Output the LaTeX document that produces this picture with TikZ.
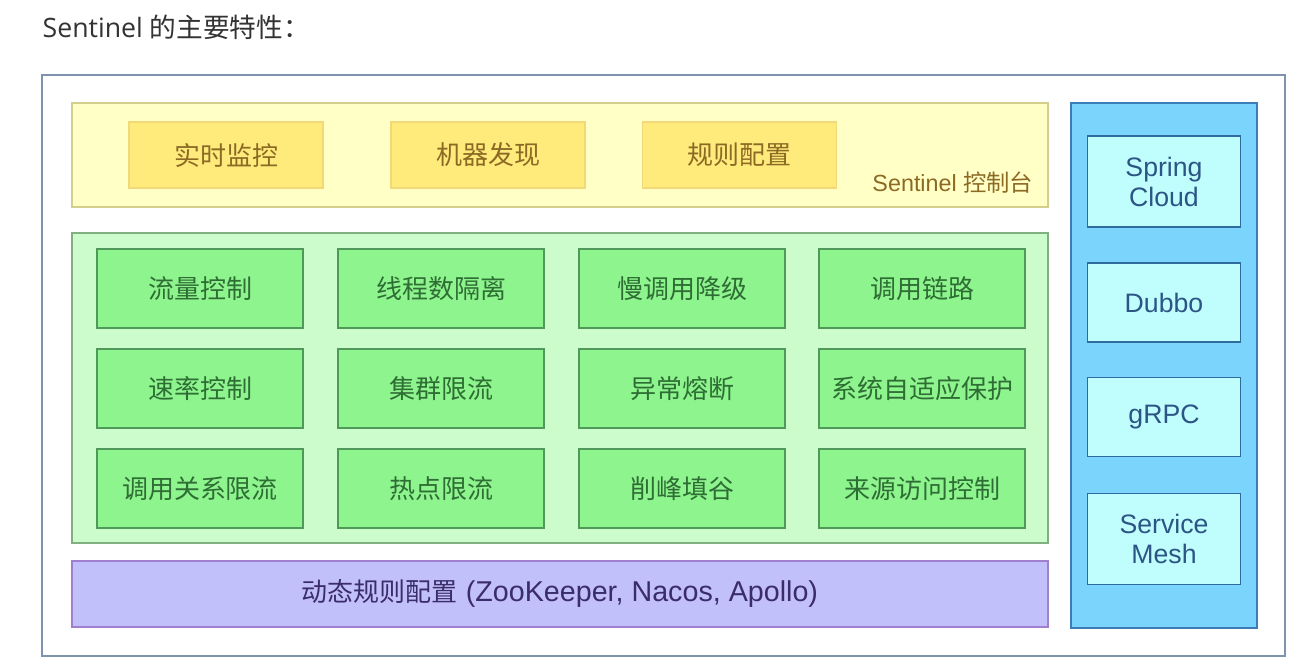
\documentclass[tikz,border=0pt]{standalone}
\usepackage{fontspec}
\setmainfont{Liberation Sans}
\newfontfamily\cjk{Noto Sans CJK SC}
\newfontfamily\titlefont{Open Sans}
\definecolor{framecol}{HTML}{7D93AE}
\definecolor{ylwpanel}{HTML}{FFFFC6}
\definecolor{ylwpaneldraw}{HTML}{D4CF8C}
\definecolor{ylwbox}{HTML}{FFEA7C}
\definecolor{ylwboxdraw}{HTML}{F2D878}
\definecolor{ylwtext}{HTML}{8C6A24}
\definecolor{grnpanel}{HTML}{CCFCCC}
\definecolor{grnpaneldraw}{HTML}{80B080}
\definecolor{grnbox}{HTML}{8EF48E}
\definecolor{grnboxdraw}{HTML}{4F9A5A}
\definecolor{grntext}{HTML}{2E6E34}
\definecolor{prpfill}{HTML}{C2C0FA}
\definecolor{prpdraw}{HTML}{A07FCE}
\definecolor{prptext}{HTML}{3A2D6A}
\definecolor{bluepanel}{HTML}{7AD4FC}
\definecolor{bluepaneldraw}{HTML}{3C7DB8}
\definecolor{bluebox}{HTML}{C0FDFD}
\definecolor{blueboxdraw}{HTML}{2E6B9E}
\definecolor{bluetext}{HTML}{2C5585}
\begin{document}
\begin{tikzpicture}[x=0.75pt,y=-0.75pt,
    box/.style={draw,line width=1.2pt,inner sep=0pt,align=center},
    ylwfeature/.style={box,fill=ylwbox,draw=ylwboxdraw,text=ylwtext,
      minimum width=145.5pt,minimum height=49.5pt,font=\cjk\fontsize{19.5}{23}\selectfont},
    grnfeature/.style={box,fill=grnbox,draw=grnboxdraw,text=grntext,
      minimum width=154.5pt,minimum height=59.25pt,font=\cjk\fontsize{19.5}{23}\selectfont},
    framework/.style={box,fill=bluebox,draw=blueboxdraw,text=bluetext,
      minimum width=114.75pt,font=\fontsize{20}{22.5}\selectfont}]
  \useasboundingbox (0,0) rectangle (1297,666);
  \fill[white] (0,0) rectangle (1297,666);
  \draw
    (38,27) node[anchor=west,text=black!80,font=\fontsize{20}{22}\selectfont] (title)
      {\titlefont Sentinel {\cjk 的主要特性：}}
    (663.5,365.5) node[box,draw=framecol,fill=white,minimum width=932.25pt,minimum height=435.75pt] (frame){}
    (560,155) node[box,fill=ylwpanel,draw=ylwpaneldraw,minimum width=732pt,minimum height=78pt] (dashboard){}
    (560,388) node[box,fill=grnpanel,draw=grnpaneldraw,minimum width=732pt,minimum height=232.5pt] (features){}
    (560,594) node[box,fill=prpfill,draw=prpdraw,text=prptext,minimum width=732pt,minimum height=49.5pt,
      font=\fontsize{21.5}{24}\selectfont] (dynrule)
      {{\cjk\fontsize{19.5}{24}\selectfont 动态规则配置} (ZooKeeper, Nacos, Apollo)}
    (1164,365.5) node[box,fill=bluepanel,draw=bluepaneldraw,minimum width=139.5pt,minimum height=393.75pt] (adapters){};
  \draw
    (226,155) node[ylwfeature] (monitor){实时监控}
    (488,155) node[ylwfeature] (discovery){机器发现}
    (739.5,155) node[ylwfeature] (ruleconf){规则配置}
    (1038,183) node[anchor=east,text=ylwtext,font=\fontsize{17.5}{20}\selectfont] (console)
      {Sentinel {\cjk 控制台}};
  \draw
    (200,288.5) node[grnfeature] (f1){流量控制}
    (441,288.5) node[grnfeature] (f2){线程数隔离}
    (682,288.5) node[grnfeature] (f3){慢调用降级}
    (922,288.5) node[grnfeature] (f4){调用链路}
    (200,388.5) node[grnfeature] (f5){速率控制}
    (441,388.5) node[grnfeature] (f6){集群限流}
    (682,388.5) node[grnfeature] (f7){异常熔断}
    (922,388.5) node[grnfeature] (f8){系统自适应保护}
    (200,488.5) node[grnfeature] (f9){调用关系限流}
    (441,488.5) node[grnfeature] (f10){热点限流}
    (682,488.5) node[grnfeature] (f11){削峰填谷}
    (922,488.5) node[grnfeature] (f12){来源访问控制};
  \draw
    (1164,181.5) node[framework,minimum height=68.25pt] (springcloud){Spring\\Cloud}
    (1164,302.5) node[framework,minimum height=59.25pt] (dubbo){Dubbo}
    (1164,417) node[framework,minimum height=59.25pt] (grpc){gRPC}
    (1164,539) node[framework,minimum height=68.25pt] (mesh){Service\\Mesh};
\end{tikzpicture}
\end{document}
